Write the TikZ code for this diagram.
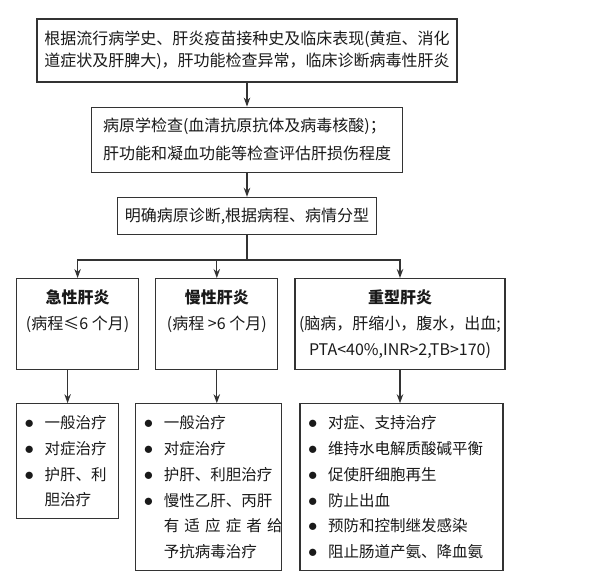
\documentclass[tikz,border=0pt]{standalone}
\usepackage{fontspec}
\setmainfont{Noto Sans CJK SC}
\usetikzlibrary{arrows.meta,positioning,calc}
\definecolor{hepline}{HTML}{333333}
\definecolor{heptext}{HTML}{1A1A1A}
\newcommand{\blt}{\makebox[20pt][l]{\scalebox{1.3}{$\bullet$}}}
\newcommand{\bulletpad}{\hspace*{20pt}}
\tikzset{
  >={Stealth[length=9pt,width=6.5pt]},
  font=\fontsize{16}{22}\selectfont,
  box/.style={draw=hepline,line width=1.2pt,fill=white,text=heptext,
              inner sep=6pt,align=center},
  typebox/.style={box,minimum height=91pt,anchor=north west,
                  font=\fontsize{16}{26}\selectfont},
  treat/.style={box,align=left,inner xsep=8pt,anchor=north west,
                font=\fontsize{15.5}{25.7}\selectfont},
  flow/.style={->,line width=1.2pt,draw=hepline},
  link/.style={line width=1.2pt,draw=hepline},
}

\begin{document}
\begin{tikzpicture}[x=1pt,y=1pt]
  \useasboundingbox (0,0) rectangle (608,-577);

  % ---- diagnosis chain ----
  \node[box,align=left,minimum width=420pt,minimum height=63pt] (clin) at (247,-50.5)
    {根据流行病学史、肝炎疫苗接种史及临床表现(黄疸、消化\\道症状及肝脾大)，肝功能检查异常，临床诊断病毒性肝炎};
  \node[box,align=left,below=24pt of clin,minimum width=311pt,minimum height=65pt,
        font=\fontsize{16}{28}\selectfont] (etio)
    {病原学检查(血清抗原抗体及病毒核酸)；\\肝功能和凝血功能等检查评估肝损伤程度};
  \node[box,below=24pt of etio,minimum width=259pt,minimum height=37pt] (class)
    {明确病原诊断,根据病程、病情分型};

  % ---- the three clinical types ----
  \coordinate[below=25pt of class] (fork);
  \node[typebox,minimum width=122pt] (acute) at (16,-278)
    {{\bfseries 急性肝炎}\\(病程≤6 个月)\\\vphantom{(}};
  \node[typebox,minimum width=122pt,right=16pt of acute] (chronic)
    {{\bfseries 慢性肝炎}\\(病程 >6 个月)\\\vphantom{(}};
  \node[typebox,inner xsep=4pt,minimum width=210pt,right=16pt of chronic] (severe)
    {{\bfseries 重型肝炎}\\(脑病，肝缩小，腹水，出血;\\PTA<40\%,INR>2,TB>170)};

  % ---- treatment per type ----
  \node[treat,text width=86pt,minimum height=115pt] (acutetx)
    at ($(acute.south west)+(0,-33)$)
    {\blt 一般治疗\\\blt 对症治疗\\\blt 护肝、利\\\bulletpad 胆治疗};
  \node[treat,text width=130pt,minimum height=167pt] (chronictx)
    at ($(chronic.south west)+(-20,-33)$)
    {\blt 一般治疗\\\blt 对症治疗\\\blt 护肝、利胆治疗\\\blt 慢性乙肝、丙肝\\
     \bulletpad\makebox[108pt][s]{有 适 应 症 者 给}\\\bulletpad 予抗病毒治疗};
  \node[treat,text width=187pt,minimum height=167pt] (severetx)
    at ($(severe.south west)+(5,-33)$)
    {\blt 对症、支持治疗\\\blt 维持水电解质酸碱平衡\\\blt 促使肝细胞再生\\
     \blt 防止出血\\\blt 预防和控制继发感染\\\blt 阻止肠道产氨、降血氨};

  % ---- connectors ----
  \draw[flow] (clin) -- (etio);
  \draw[flow] (etio) -- (class);
  \draw[link] (class) -- (fork);
  \draw[flow] (fork) -| (acute);
  \draw[flow] (fork) -| (severe);
  \draw[flow] (fork -| chronic) -- (chronic);
  \draw[flow] (acute.south -| acutetx.north) -- (acutetx.north);
  \draw[flow] (chronic.south) -- (chronic.south |- chronictx.north);
  \draw[flow] (severe.south) -- (severe.south |- severetx.north);
\end{tikzpicture}
\end{document}
